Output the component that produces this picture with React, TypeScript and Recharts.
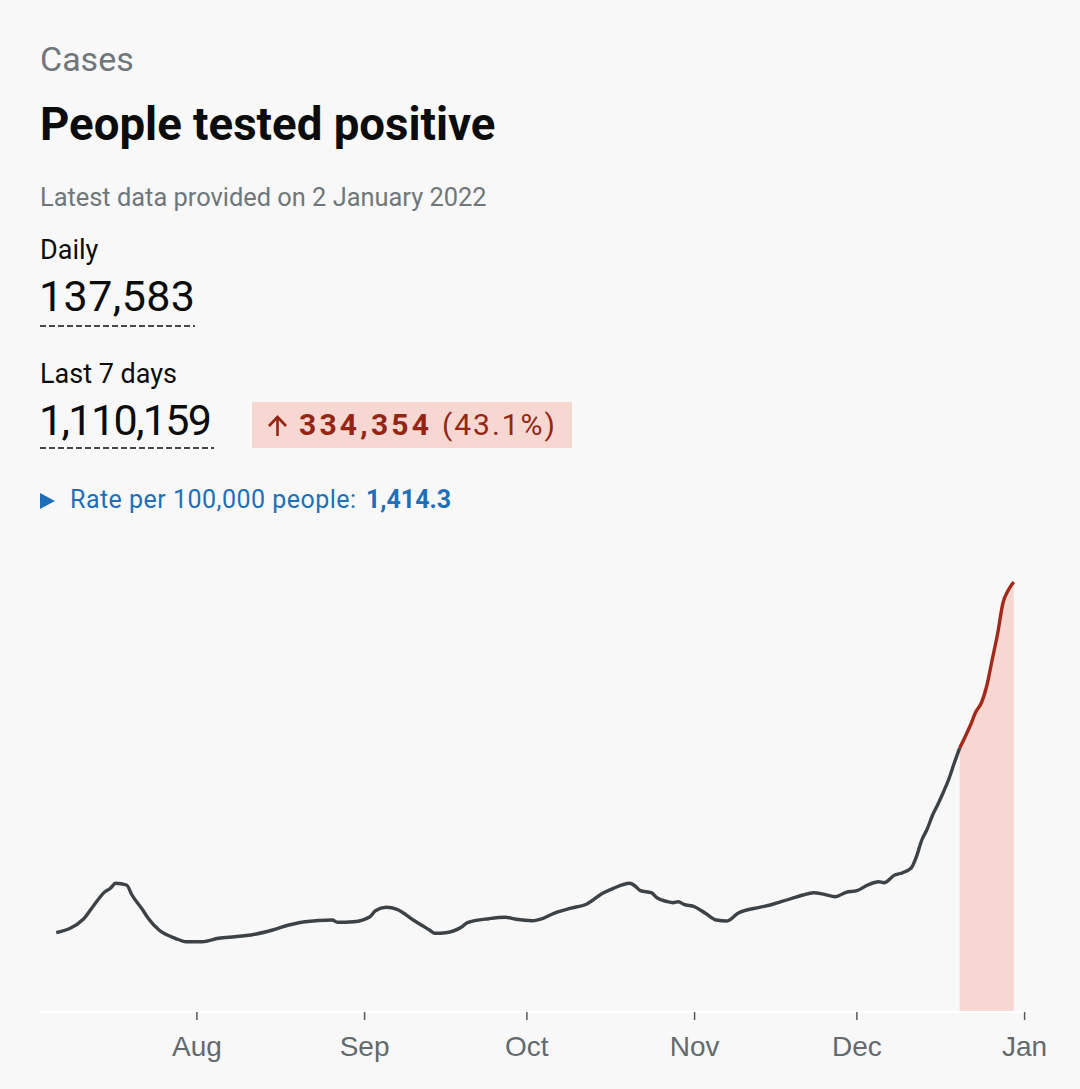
import { ComposedChart, Line, Area, XAxis, YAxis } from 'recharts';

// 7-day average of people tested positive
const dates = [
  '2021-07-06', '2021-07-11', '2021-07-13', '2021-07-15', '2021-07-16', '2021-07-17',
  '2021-07-19', '2021-07-20', '2021-07-22', '2021-07-23', '2021-07-25', '2021-07-28',
  '2021-07-30', '2021-08-02', '2021-08-05', '2021-08-08', '2021-08-11', '2021-08-15',
  '2021-08-18', '2021-08-21', '2021-08-26', '2021-08-27', '2021-08-30', '2021-09-02',
  '2021-09-03', '2021-09-05', '2021-09-07', '2021-09-10', '2021-09-13', '2021-09-14',
  '2021-09-16', '2021-09-19', '2021-09-20', '2021-09-24', '2021-09-27', '2021-09-29',
  '2021-10-02', '2021-10-04', '2021-10-06', '2021-10-09', '2021-10-12', '2021-10-15',
  '2021-10-17', '2021-10-20', '2021-10-21', '2021-10-22', '2021-10-24', '2021-10-25',
  '2021-10-27', '2021-10-28', '2021-10-29', '2021-10-30', '2021-11-01', '2021-11-03',
  '2021-11-05', '2021-11-07', '2021-11-09', '2021-11-13', '2021-11-15', '2021-11-17',
  '2021-11-19', '2021-11-21', '2021-11-23', '2021-11-25', '2021-11-27', '2021-11-29',
  '2021-12-01', '2021-12-03', '2021-12-05', '2021-12-06', '2021-12-08', '2021-12-09',
  '2021-12-11', '2021-12-12', '2021-12-13', '2021-12-14', '2021-12-15', '2021-12-16',
  '2021-12-17', '2021-12-18', '2021-12-19', '2021-12-20', '2021-12-22', '2021-12-23',
  '2021-12-24', '2021-12-25', '2021-12-26', '2021-12-27', '2021-12-28', '2021-12-29',
  '2021-12-30',
];
const cases = [
  31720, 37080, 42800, 48120, 49480, 51480,
  50800, 46800, 40800, 37480, 32800, 29480,
  28120, 28120, 29480, 30120, 30800, 32800,
  34800, 36120, 36800, 35880, 36120, 38120,
  40520, 41880, 41080, 36800, 32800, 31480,
  31720, 34120, 35720, 37320, 37880, 37080,
  36520, 37480, 39480, 41480, 43080, 47480,
  49480, 51480, 50400, 48520, 47720, 45720,
  44120, 43720, 44120, 43080, 42120, 39480,
  36800, 36400, 39480, 41880, 42800, 44120,
  45480, 46800, 47720, 47080, 46120, 47880,
  48520, 50800, 52120, 51720, 54800, 55400,
  57480, 62120, 68800, 73200, 78800, 83200,
  88000, 93200, 99600, 105600, 114800, 120120,
  123600, 130400, 140800, 151200, 163600, 168800,
  172000,
];
const recentFrom = '2021-12-20';
const monthTicks = ['2021-08-01', '2021-09-01', '2021-10-01', '2021-11-01', '2021-12-01', '2022-01-01'];
const monthLabels = ['Aug', 'Sep', 'Oct', 'Nov', 'Dec', 'Jan'];

const DARK = '#3c4246';
const RED = '#a2281a';
const PINK = '#f6d7d2';
const GREY = '#6f777b';
const FONT = 'Roboto, "Noto Sans", sans-serif';

const cut = Date.parse(recentFrom);
const chartData = dates.map((d, i) => {
  const t = Date.parse(d);
  return {
    t,
    base: t <= cut ? cases[i] : null,
    recent: t >= cut ? cases[i] : null,
  };
});
const ticks = monthTicks.map(d => Date.parse(d));
const xDomain = [Date.parse('2021-07-03'), Date.parse('2022-01-02')];

function Header() {
  return (
    <svg width={1080} height={540} style={{ position: 'absolute', left: 0, top: 0 }} fontFamily={FONT}>
      <text x={40} y={71} fontSize={34} fill={GREY}>Cases</text>
      <text x={40} y={140} fontSize={45.6} fontWeight={700} fill="#0b0c0c">People tested positive</text>
      <text x={40} y={206} fontSize={25.4} fill={GREY}>Latest data provided on 2 January 2022</text>

      <text x={40} y={259} fontSize={27} fill="#0b0c0c">Daily</text>
      <text x={39} y={311} fontSize={43} fill="#0b0c0c" textLength={156} lengthAdjust="spacing">137,583</text>
      <line x1={40} x2={195} y1={326} y2={326} stroke="#0b0c0c" strokeWidth={1.5} strokeDasharray="6 3" />

      <text x={40} y={383} fontSize={27} fill="#0b0c0c">Last 7 days</text>
      <text x={39} y={435} fontSize={43} fill="#0b0c0c" textLength={173} lengthAdjust="spacing">1,110,159</text>
      <line x1={40} x2={214} y1={448} y2={448} stroke="#0b0c0c" strokeWidth={1.5} strokeDasharray="6 3" />

      <rect x={252} y={402} width={320} height={46} fill={PINK} />
      <path d="M277.5,436 V417.5 M269,426 L277.5,417 L286,426" stroke="#942514" strokeWidth={2.6} fill="none" />
      <text y={435} fontSize={30} fill="#942514">
        <tspan x={299} fontWeight={700} textLength={130} lengthAdjust="spacing">334,354</tspan>
        <tspan x={442} textLength={113} lengthAdjust="spacing">(43.1%)</tspan>
      </text>

      <polygon points="40,493 55,501 40,509" fill="#1d70b8" />
      <text y={508} fontSize={25} fill="#1d70b8">
        <tspan x={70} textLength={286} lengthAdjust="spacing">Rate per 100,000 people:</tspan>
        <tspan x={366} fontWeight={700}>1,414.3</tspan>
      </text>
    </svg>
  );
}

export default function App() {
  return (
    <div style={{ position: 'relative', width: 1080, height: 1089, background: '#f8f8f8', overflow: 'hidden' }}>
      <style>{'body{margin:0;background:#f8f8f8}'}</style>
      <Header />
      <div style={{ position: 'absolute', left: 0, top: 540 }}>
        <ComposedChart width={1080} height={549} data={chartData} margin={{ top: 32, right: 50, left: 40, bottom: 0 }}>
          <XAxis
            dataKey="t"
            type="number"
            scale="time"
            domain={xDomain}
            allowDataOverflow
            ticks={ticks}
            tickFormatter={(v: number) => monthLabels[ticks.indexOf(v)] ?? ''}
            axisLine={{ stroke: '#ffffff', strokeWidth: 2 }}
            tickLine={{ stroke: '#505a5f', strokeWidth: 1.5 }}
            tickSize={8}
            tickMargin={16}
            height={77}
            tick={{ fill: '#626a6e', fontSize: 28, fontFamily: '"Liberation Sans", Arial, sans-serif' }}
          />
          <YAxis hide domain={[0, 176000]} />
          <Area
            dataKey="recent"
            type="monotone"
            stroke="none"
            fill={PINK}
            fillOpacity={1}
            isAnimationActive={false}
          />
          <Line
            dataKey="base"
            type="monotone"
            stroke={DARK}
            strokeWidth={3.4}
            dot={false}
            isAnimationActive={false}
          />
          <Line
            dataKey="recent"
            type="monotone"
            stroke={RED}
            strokeWidth={3.4}
            dot={false}
            isAnimationActive={false}
          />
        </ComposedChart>
      </div>
    </div>
  );
}
